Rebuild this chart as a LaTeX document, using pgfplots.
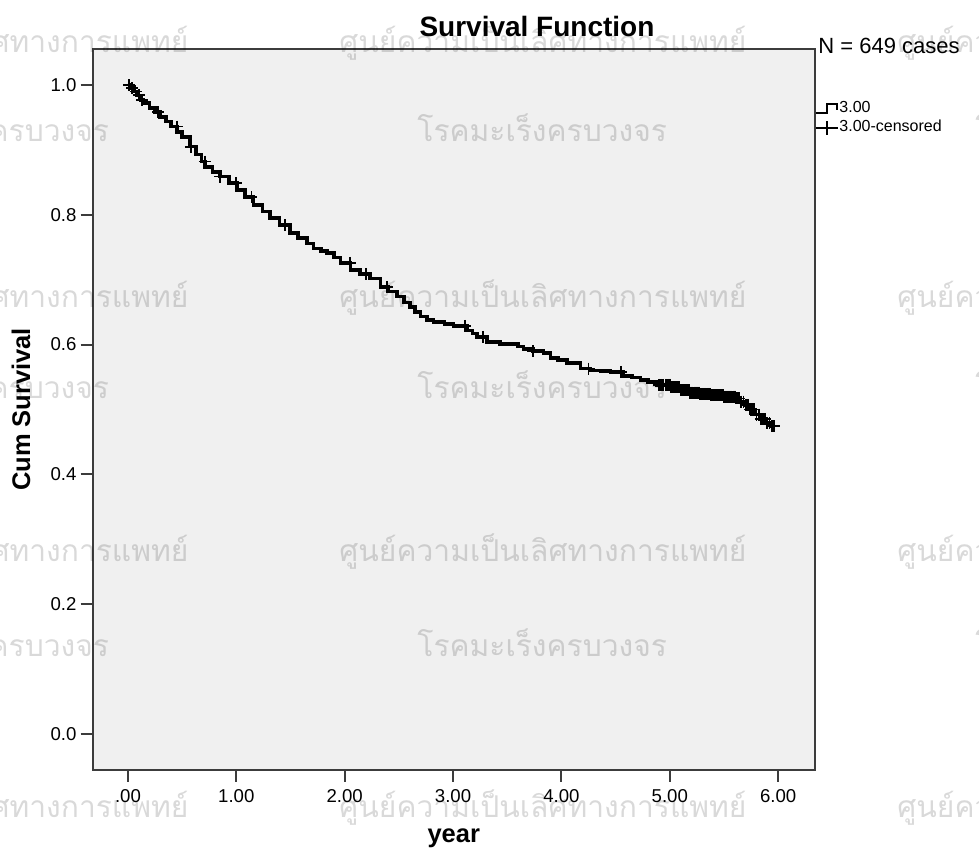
\documentclass[border=0pt]{standalone}
\usepackage{pgfplots}
\usepackage{pgfplotstable}
\pgfplotsset{compat=1.18}
\usepackage{fontspec}
\setmainfont{Liberation Sans}
\newfontfamily\thaifont[Script=Thai]{Loma}
\definecolor{plotbg}{RGB}{240,240,240}
\definecolor{axisgray}{RGB}{60,60,60}

\pgfplotstableread{
t S
0.000 1.000
0.030 0.995
0.060 0.990
0.090 0.984
0.120 0.977
0.144 0.972
0.200 0.965
0.250 0.958
0.298 0.951
0.350 0.944
0.400 0.936
0.452 0.928
0.500 0.920
0.575 0.905
0.630 0.893
0.680 0.882
0.713 0.874
0.780 0.866
0.852 0.859
0.930 0.849
1.006 0.838
1.080 0.827
1.159 0.815
1.240 0.805
1.313 0.795
1.400 0.784
1.498 0.772
1.570 0.764
1.652 0.756
1.713 0.748
1.780 0.744
1.837 0.741
1.900 0.734
1.960 0.726
2.052 0.715
2.140 0.709
2.236 0.702
2.329 0.689
2.400 0.682
2.483 0.674
2.550 0.665
2.605 0.658
2.650 0.650
2.698 0.643
2.760 0.638
2.821 0.635
2.920 0.632
3.005 0.629
3.129 0.622
3.180 0.617
3.221 0.612
3.313 0.604
3.436 0.601
3.600 0.597
3.651 0.593
3.740 0.590
3.836 0.587
3.898 0.579
3.970 0.576
4.052 0.572
4.175 0.563
4.267 0.560
4.360 0.559
4.452 0.558
4.574 0.552
4.650 0.549
4.728 0.545
4.800 0.542
4.882 0.538
5.005 0.534
5.100 0.530
5.190 0.526
5.280 0.524
5.374 0.522
5.500 0.520
5.605 0.517
5.650 0.512
5.697 0.507
5.740 0.500
5.790 0.492
5.840 0.485
5.882 0.479
5.930 0.474
5.960 0.474
}\survdata

\pgfplotstableread{
t S
0.01 1.000
0.04 0.995
0.07 0.990
0.10 0.984
0.13 0.977
0.28 0.958
0.45 0.936
0.58 0.905
0.71 0.882
0.85 0.859
1.00 0.849
1.14 0.827
1.45 0.784
2.05 0.726
2.20 0.709
2.39 0.689
3.11 0.629
3.28 0.612
3.74 0.590
4.25 0.563
4.55 0.558
4.90 0.538
4.92 0.538
4.94 0.538
4.96 0.538
4.97 0.538
4.98 0.538
4.99 0.538
5.00 0.538
5.01 0.534
5.02 0.534
5.03 0.534
5.04 0.534
5.05 0.534
5.06 0.534
5.07 0.534
5.08 0.534
5.09 0.534
5.10 0.530
5.11 0.530
5.12 0.530
5.13 0.530
5.14 0.530
5.15 0.530
5.16 0.530
5.17 0.530
5.18 0.530
5.19 0.526
5.20 0.526
5.21 0.526
5.22 0.526
5.23 0.526
5.24 0.526
5.25 0.526
5.26 0.526
5.27 0.526
5.28 0.524
5.29 0.524
5.30 0.524
5.31 0.524
5.32 0.524
5.33 0.524
5.34 0.524
5.35 0.524
5.36 0.524
5.37 0.524
5.38 0.522
5.39 0.522
5.40 0.522
5.41 0.522
5.42 0.522
5.43 0.522
5.44 0.522
5.45 0.522
5.46 0.522
5.47 0.522
5.48 0.522
5.49 0.522
5.50 0.520
5.51 0.520
5.52 0.520
5.53 0.520
5.54 0.520
5.55 0.520
5.56 0.520
5.57 0.520
5.58 0.520
5.59 0.520
5.60 0.520
5.61 0.517
5.62 0.517
5.63 0.517
5.64 0.517
5.66 0.512
5.68 0.512
5.70 0.507
5.72 0.507
5.74 0.500
5.76 0.500
5.78 0.500
5.80 0.492
5.82 0.492
5.84 0.485
5.86 0.485
5.88 0.485
5.90 0.479
5.92 0.479
5.94 0.474
5.96 0.474
}\censdata

\begin{document}
\begin{tikzpicture}[x=0.5pt,y=0.5pt]
\useasboundingbox (0,0) rectangle (979,850);
\begin{axis}[
  at={(46.25pt,40pt)}, anchor=south west,
  scale only axis, width=361.25pt, height=360.5pt,
  xmin=-0.327, xmax=6.34, ymin=-0.0555, ymax=1.0555,
  axis background/.style={fill=plotbg},
  axis line style={axisgray, line width=1pt},
  xtick={0,1,2,3,4,5,6}, xticklabels={.00,1.00,2.00,3.00,4.00,5.00,6.00},
  ytick={0,0.2,0.4,0.6,0.8,1.0}, yticklabels={0.0,0.2,0.4,0.6,0.8,1.0},
  tick align=outside, major tick length=6pt,
  tick style={axisgray, line width=1pt},
  xtick pos=bottom, ytick pos=left,
  ticklabel style={font=\fontsize{9.3}{11}\selectfont, text=black},
  yticklabel style={xshift=1.5pt},
  /pgf/number format/assume math mode=true,
  clip=false,
]
\addplot[const plot, black, line width=1.8pt] table {\survdata};
\addplot[only marks, black, mark=+, mark size=3pt, mark options={line width=0.9pt}] table {\censdata};
\end{axis}

% titles
\node[anchor=base, font=\bfseries\fontsize{14}{16}\selectfont] at (537,813) {Survival Function};
\node[anchor=base, font=\bfseries\fontsize{12.75}{15}\selectfont] at (453.75,7) {year};
\node[rotate=90, anchor=center, font=\bfseries\fontsize{12.75}{15}\selectfont] at (21,440.5) {Cum Survival};

% legend
\node[anchor=base west, inner sep=0pt, font=\fontsize{11}{13}\selectfont] at (818,796) {N = 649 cases};
\draw[black, line width=1.1pt] (816,737) -- (827,737) -- (827,746) -- (837,746) -- (837,740);
\node[anchor=base west, inner sep=0pt, font=\fontsize{8}{9}\selectfont] at (839,737) {3.00};
\draw[black, line width=0.7pt] (816,722) -- (838,722) (827,715) -- (827,729);
\node[anchor=base west, inner sep=0pt, font=\fontsize{8}{9}\selectfont] at (839,718) {3.00-censored};

% watermarks
\begin{scope}
\clip (0,0) rectangle (979,850);
\foreach \yy in {797,542,288,32}{
  \foreach \xx in {-219,339,897}{
    \node[anchor=base west, inner sep=0pt, text opacity=0.15, font=\thaifont\fontsize{15}{18}\selectfont] at (\xx,\yy) {ศูนย์ความเป็นเลิศทางการแพทย์};
  }
}
\foreach \yy in {708,451,193}{
  \foreach \xx in {-141,417,975}{
    \node[anchor=base west, inner sep=0pt, text opacity=0.15, font=\thaifont\fontsize{15}{18}\selectfont] at (\xx,\yy) {โรคมะเร็งครบวงจร};
  }
}
\end{scope}
\end{tikzpicture}
\end{document}
